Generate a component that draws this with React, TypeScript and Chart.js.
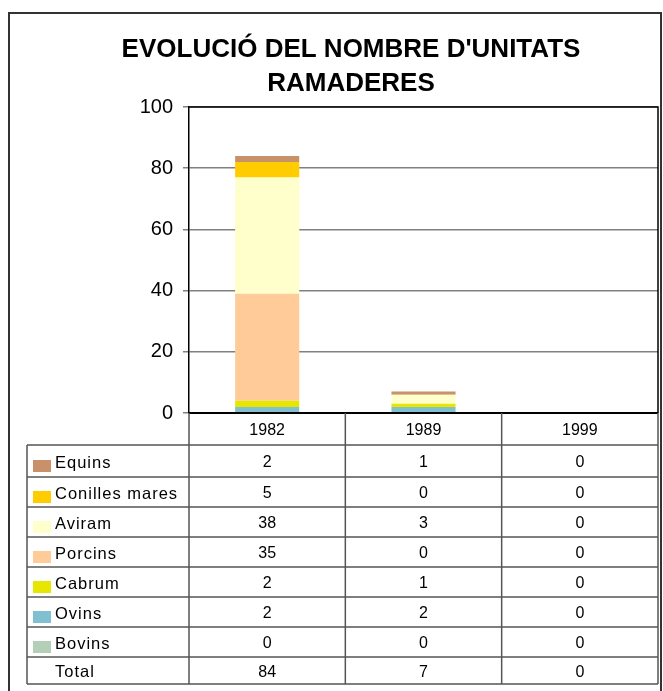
import { useEffect, useRef } from "react";
import { Chart, registerables } from "chart.js";

Chart.register(...registerables);

// ---- data ----
const categories = ["1982", "1989", "1999"];
const titleLines = ["EVOLUCIÓ DEL NOMBRE D'UNITATS", "RAMADERES"];
const yTicks = [0, 20, 40, 60, 80, 100];

// stacking order bottom -> top
const seriesNames = ["Bovins", "Ovins", "Cabrum", "Porcins", "Aviram", "Conilles mares", "Equins"];
const bovins = [0, 0, 0];
const ovins = [2, 2, 0];
const cabrum = [2, 1, 0];
const porcins = [35, 0, 0];
const aviram = [38, 3, 0];
const conillesMares = [5, 0, 0];
const equins = [2, 1, 0];
const totals = [84, 7, 0];
const totalLabel = "Total";

const seriesValues = [bovins, ovins, cabrum, porcins, aviram, conillesMares, equins];
const seriesColors = ["#B3CFB8", "#80C0D0", "#E6E600", "#FFCC99", "#FFFFCC", "#FFCC00", "#C89169"];

const FONT = "'Liberation Sans', Arial, sans-serif";

const W = 663;
const H = 691;

const decorPlugin = {
  id: "decor",
  afterDraw(chart: any) {
    const ctx: CanvasRenderingContext2D = chart.ctx;
    const area = chart.chartArea;
    const xs = chart.scales.x;
    const n = categories.length;
    const catW = (area.right - area.left) / n;

    ctx.save();
    // outer frame
    ctx.strokeStyle = "#333333";
    ctx.lineWidth = 2;
    ctx.strokeRect(9, 13, 652, 700);

    // title
    ctx.fillStyle = "#000";
    ctx.font = `bold 26px ${FONT}`;
    ctx.textAlign = "center";
    ctx.textBaseline = "middle";
    titleLines.forEach((t, i) => ctx.fillText(t, 351, 50 + i * 34));

    // plot area border
    ctx.strokeStyle = "#000";
    ctx.lineWidth = 1.5;
    ctx.beginPath();
    ctx.moveTo(area.left, area.top);
    ctx.lineTo(area.right, area.top);
    ctx.lineTo(area.right, area.bottom);
    ctx.stroke();
    ctx.lineWidth = 2;
    ctx.beginPath();
    ctx.moveTo(area.left, area.bottom);
    ctx.lineTo(area.right, area.bottom);
    ctx.stroke();

    // data table
    const headerBottom = 445;
    const tableLeft = 27;
    const tableBottom = 684;
    const rowLines = [445, 477, 507, 537, 567, 597, 627, 657, 684];

    ctx.strokeStyle = "#555555";
    ctx.lineWidth = 1.5;
    rowLines.forEach((y) => {
      ctx.beginPath();
      ctx.moveTo(tableLeft, y);
      ctx.lineTo(area.right, y);
      ctx.stroke();
    });
    ctx.beginPath();
    ctx.moveTo(tableLeft, headerBottom);
    ctx.lineTo(tableLeft, tableBottom);
    ctx.stroke();
    for (let i = 0; i <= n; i++) {
      const x = area.left + i * catW;
      ctx.beginPath();
      ctx.moveTo(x, area.bottom);
      ctx.lineTo(x, tableBottom);
      ctx.stroke();
    }

    // header labels
    ctx.fillStyle = "#000";
    ctx.font = `16px ${FONT}`;
    ctx.textAlign = "center";
    ctx.textBaseline = "middle";
    categories.forEach((c, i) => {
      ctx.fillText(c, xs.getPixelForValue(i), (area.bottom + headerBottom) / 2 + 2);
    });

    // rows (top row = top of stack)
    const datasets = chart.data.datasets;
    const rows: { name: string; color: string | null; vals: number[] }[] = [];
    for (let d = datasets.length - 1; d >= 0; d--) {
      rows.push({ name: datasets[d].label, color: datasets[d].backgroundColor, vals: datasets[d].data });
    }
    rows.push({ name: totalLabel, color: null, vals: totals });

    rows.forEach((r, i) => {
      const yTop = rowLines[i];
      const yBot = rowLines[i + 1];
      const cy = (yTop + yBot) / 2 + 2;
      if (r.color) {
        ctx.fillStyle = r.color;
        ctx.fillRect(33, cy - 3, 18, 12);
      }
      ctx.fillStyle = "#000";
      ctx.font = `16.5px ${FONT}`;
      ctx.textAlign = "left";
      (ctx as any).letterSpacing = "1px";
      ctx.fillText(r.name, 55, cy);
      (ctx as any).letterSpacing = "0px";
      ctx.font = `16px ${FONT}`;
      ctx.textAlign = "center";
      r.vals.forEach((v, j) => {
        ctx.fillText(String(v), xs.getPixelForValue(j), cy);
      });
    });

    ctx.restore();
  },
};

export default function App() {
  const ref = useRef<HTMLCanvasElement | null>(null);

  useEffect(() => {
    if (!ref.current) return;
    const chart = new Chart(ref.current, {
      type: "bar",
      data: {
        labels: categories,
        datasets: seriesNames.map((name, i) => ({
          label: name,
          data: seriesValues[i],
          backgroundColor: seriesColors[i],
          borderWidth: 0,
          barPercentage: 0.41,
          categoryPercentage: 1,
        })),
      },
      options: {
        responsive: false,
        animation: false,
        layout: {
          autoPadding: false,
          padding: { left: 0, top: 107, right: 5, bottom: 0 },
        },
        plugins: {
          legend: { display: false },
          title: { display: false },
          tooltip: { enabled: false },
        },
        scales: {
          x: {
            stacked: true,
            grid: { display: false },
            border: { display: false },
            ticks: { display: false },
            afterFit: (scale: any) => {
              scale.height = H - 413;
            },
          },
          y: {
            stacked: true,
            min: 0,
            max: 100,
            afterBuildTicks: (scale: any) => {
              scale.ticks = yTicks.map((v) => ({ value: v }));
            },
            ticks: {
              color: "#000",
              padding: 10,
              font: { family: FONT, size: 20 },
            },
            grid: {
              color: "#808080",
              lineWidth: 1.5,
              tickLength: 6,
              tickColor: "#808080",
            },
            border: { display: true, color: "#000", width: 1.5 },
            afterFit: (scale: any) => {
              scale.width = 189;
            },
          },
        },
      },
      plugins: [decorPlugin],
    });
    return () => chart.destroy();
  }, []);

  return (
    <div style={{ position: "fixed", left: 0, top: 0, width: W, height: H, background: "#fff" }}>
      <canvas ref={ref} width={W} height={H} style={{ display: "block" }} />
    </div>
  );
}
